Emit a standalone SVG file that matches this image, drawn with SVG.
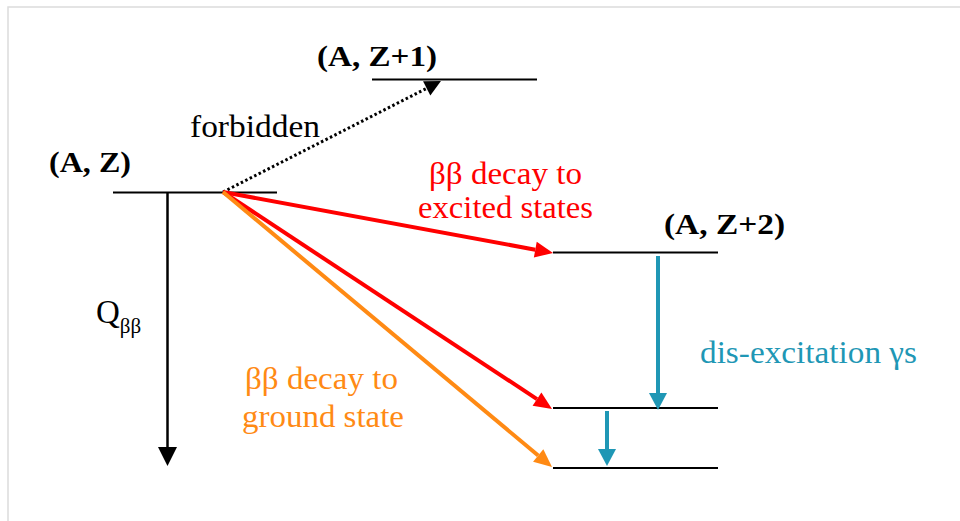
<svg xmlns="http://www.w3.org/2000/svg" width="960" height="521" viewBox="0 0 960 521">
<defs>
<style>
text{font-family:'Liberation Serif',Tinos,'Times New Roman',serif}
.lvl{stroke:#000;stroke-width:2;fill:none}
.lbl{font-weight:bold;font-size:30px;fill:#000}
.txt{font-size:31px}
.red{stroke:#ff0000;stroke-width:4;fill:none}
.org{stroke:#ff8a14;stroke-width:4;fill:none}
.teal{stroke:#1f97b5;stroke-width:4;fill:none}
.blk{stroke:#000;stroke-width:2.5;fill:none}
.dot{stroke:#000;stroke-width:3;fill:none;stroke-dasharray:2.5 2.5}
</style>
<marker id="hRed" markerUnits="userSpaceOnUse" orient="auto" refX="0" refY="0" markerWidth="20" markerHeight="20" overflow="visible"><path d="M0,-8 L18,0 L0,8 z" fill="#ff0000"/></marker>
<marker id="hOrg" markerUnits="userSpaceOnUse" orient="auto" refX="0" refY="0" markerWidth="20" markerHeight="20" overflow="visible"><path d="M0,-8 L18,0 L0,8 z" fill="#ff8a14"/></marker>
<marker id="hTeal" markerUnits="userSpaceOnUse" orient="auto" refX="0" refY="0" markerWidth="20" markerHeight="20" overflow="visible"><path d="M0,-9 L17,0 L0,9 z" fill="#1f97b5"/></marker>
<marker id="hBlk" markerUnits="userSpaceOnUse" orient="auto" refX="0" refY="0" markerWidth="20" markerHeight="20" overflow="visible"><path d="M0,-9.5 L19,0 L0,9.5 z" fill="#000"/></marker>
<marker id="hDot" markerUnits="userSpaceOnUse" orient="auto" refX="0" refY="0" markerWidth="20" markerHeight="20" overflow="visible"><path d="M0,-8 L16,0 L0,8 z" fill="#000"/></marker>
</defs>
<rect width="960" height="521" fill="#fff"/>
<path d="M8,521 V7 H960" fill="none" stroke="#dcdcdc" stroke-width="1.5"/>

<g id="level-AZ">
<line class="lvl" x1="113" y1="192.5" x2="277" y2="192.5"/>
<text class="lbl" x="49" y="172" textLength="82" lengthAdjust="spacingAndGlyphs">(A, Z)</text>
</g>
<g id="level-AZ1">
<line class="lvl" x1="372" y1="79.5" x2="537" y2="79.5"/>
<text class="lbl" x="317" y="66" textLength="120" lengthAdjust="spacingAndGlyphs">(A, Z+1)</text>
</g>
<g id="level-AZ2-excited">
<line class="lvl" x1="553" y1="252.5" x2="718" y2="252.5"/>
<text class="lbl" x="664" y="234" textLength="121" lengthAdjust="spacingAndGlyphs">(A, Z+2)</text>
</g>
<g id="level-AZ2-mid">
<line class="lvl" x1="553" y1="408" x2="718" y2="408"/>
</g>
<g id="level-AZ2-ground">
<line class="lvl" x1="553" y1="468" x2="718" y2="468"/>
</g>

<g id="connectors">
<path class="dot" d="M223,192 L426.7,88.3" marker-end="url(#hDot)"/>
<path class="red" d="M223,192 L535.3,249.7" marker-end="url(#hRed)"/>
<path class="red" d="M223,192 L537,399.1" marker-end="url(#hRed)"/>
<path class="org" d="M223,192 L538.2,455.5" marker-end="url(#hOrg)"/>
<path class="blk" d="M167.5,193 L167.5,447" marker-end="url(#hBlk)"/>
<path class="teal" d="M658,256 L658,393" marker-end="url(#hTeal)"/>
<path class="teal" d="M607,411 L607,449" marker-end="url(#hTeal)"/>
</g>

<g id="labels">
<text class="txt" x="190" y="137" fill="#000" textLength="130" lengthAdjust="spacingAndGlyphs">forbidden</text>
<text class="txt" x="429" y="184" fill="#ff0000" textLength="153" lengthAdjust="spacingAndGlyphs">ββ decay to</text>
<text class="txt" x="418" y="218" fill="#ff0000" textLength="175" lengthAdjust="spacingAndGlyphs">excited states</text>
<text class="txt" x="245" y="389" fill="#ff8a14" textLength="153" lengthAdjust="spacingAndGlyphs">ββ decay to</text>
<text class="txt" x="242" y="427" fill="#ff8a14" textLength="162" lengthAdjust="spacingAndGlyphs">ground state</text>
<text class="txt" x="700" y="363" fill="#1f97b5" textLength="217" lengthAdjust="spacingAndGlyphs">dis-excitation γs</text>
<text x="96" y="323" fill="#000" font-size="33">Q<tspan font-size="21" dy="10">ββ</tspan></text>
</g>
</svg>
